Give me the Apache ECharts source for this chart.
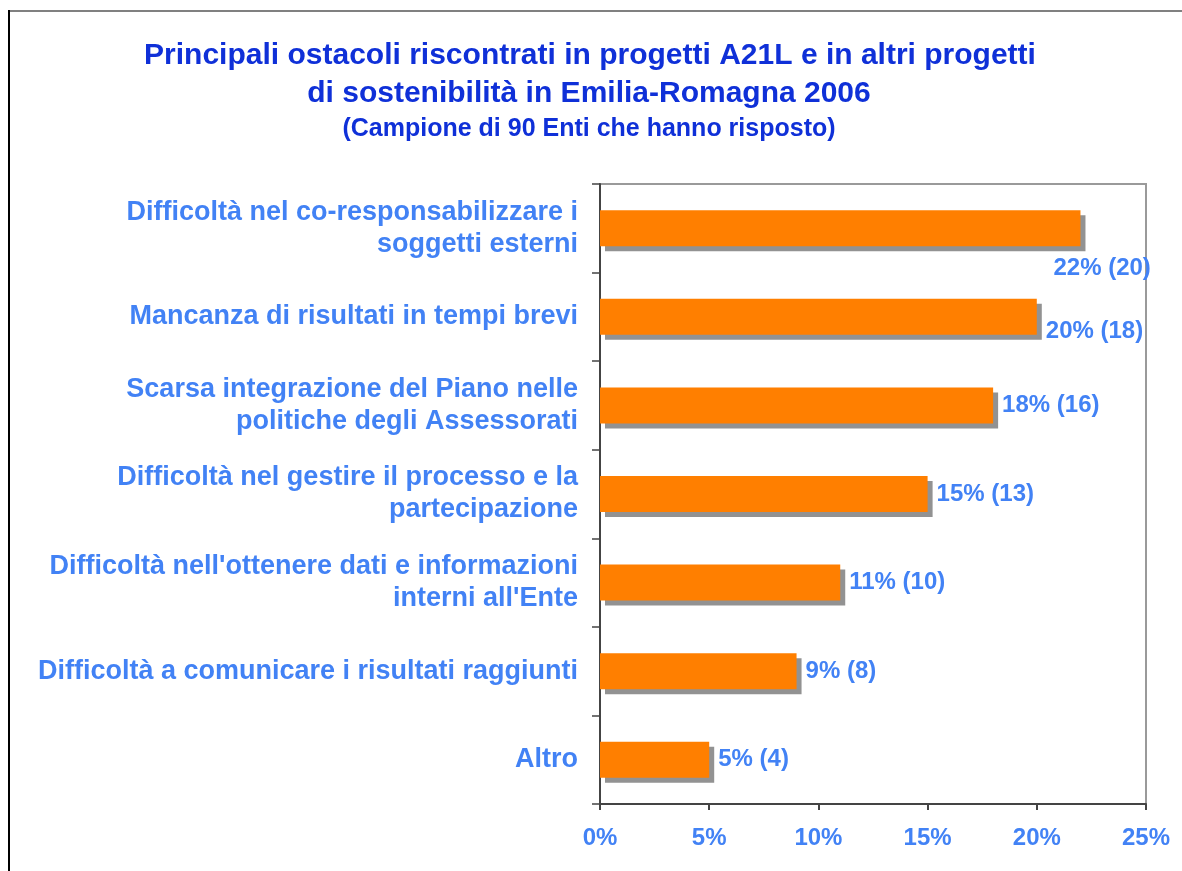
<!DOCTYPE html>
<html>
<head>
<meta charset="utf-8">
<script src="https://cdn.jsdelivr.net/npm/echarts@6/dist/echarts.min.js"></script>
<style>
  html, body { margin: 0; padding: 0; background: #fff; }
  #chart { width: 1182px; height: 871px; }
</style>
</head>
<body>
<div id="chart"></div>
<script>
const categories = [
  'Difficoltà nel co-responsabilizzare i\nsoggetti esterni',
  'Mancanza di risultati in tempi brevi',
  'Scarsa integrazione del Piano nelle\npolitiche degli Assessorati',
  'Difficoltà nel gestire il processo e la\npartecipazione',
  "Difficoltà nell'ottenere dati e informazioni\ninterni all'Ente",
  'Difficoltà a comunicare i risultati raggiunti',
  'Altro'
]
const percents = [22, 20, 18, 15, 11, 9, 5]
const counts = [20, 18, 16, 13, 10, 8, 4]
const xTicks = [0, 5, 10, 15, 20, 25]

const labelBlue = '#4282f5'
const titleBlue = '#0f30d8'
const font = '"Liberation Sans", Arial, sans-serif'

// the first two labels sit a little lower in the original
const labelOffsets = [[-36, 40], [0, 15], [0, 0], [0, 0], [0, 0], [0, 0], [0, 0]]

const chart = echarts.init(document.getElementById('chart'))

chart.setOption({
  backgroundColor: '#fff',
  textStyle: { fontFamily: font },
  title: [
    {
      text: 'Principali ostacoli riscontrati in progetti A21L e in altri progetti',
      left: 585, top: 36, textAlign: 'center',
      textStyle: { color: titleBlue, fontSize: 30, fontWeight: 'bold', fontFamily: font }
    },
    {
      text: 'di sostenibilità in Emilia-Romagna 2006',
      left: 584, top: 74, textAlign: 'center',
      textStyle: { color: titleBlue, fontSize: 30, fontWeight: 'bold', fontFamily: font }
    },
    {
      text: '(Campione di 90 Enti che hanno risposto)',
      left: 584, top: 112, textAlign: 'center',
      textStyle: { color: titleBlue, fontSize: 25, fontWeight: 'bold', fontFamily: font }
    }
  ],
  graphic: [
    { type: 'line', shape: { x1: 9, y1: 11, x2: 1182, y2: 11 }, style: { stroke: '#808080', lineWidth: 2 } },
    { type: 'line', shape: { x1: 9, y1: 10, x2: 9, y2: 871 }, style: { stroke: '#000', lineWidth: 2 } }
  ],
  grid: {
    left: 600, top: 184, right: 36, bottom: 67,
    show: true, borderColor: '#9a9a9a', borderWidth: 2, backgroundColor: 'transparent'
  },
  xAxis: {
    type: 'value',
    min: 0, max: 25, interval: 5,
    axisLine: { show: true, lineStyle: { color: '#444', width: 2 } },
    axisTick: { show: true, length: 6, lineStyle: { color: '#444', width: 2 } },
    splitLine: { show: false },
    axisLabel: {
      margin: 22,
      color: labelBlue, fontSize: 24, fontWeight: 'bold', fontFamily: font,
      formatter: (v) => xTicks.includes(v) ? v + '%' : ''
    }
  },
  yAxis: {
    type: 'category',
    inverse: true,
    data: categories,
    axisLine: { show: true, lineStyle: { color: '#444', width: 2 } },
    axisTick: { show: true, length: 8, lineStyle: { color: '#444', width: 1.5 } },
    axisLabel: {
      margin: 22, align: 'right', lineHeight: 32,
      color: labelBlue, fontSize: 27, fontWeight: 'bold', fontFamily: font
    }
  },
  series: [{
    type: 'bar',
    barWidth: 36,
    data: percents.map((v, i) => ({
      value: v,
      label: { offset: labelOffsets[i] }
    })),
    itemStyle: {
      color: '#ff7f00',
      shadowColor: '#929292',
      shadowBlur: 0,
      shadowOffsetX: 5,
      shadowOffsetY: 5
    },
    label: {
      show: true,
      position: 'right',
      distance: 9,
      color: labelBlue, fontSize: 24, fontWeight: 'bold', fontFamily: font,
      formatter: (p) => p.value + '% (' + counts[p.dataIndex] + ')'
    },
    emphasis: { disabled: true },
    silent: true,
    animation: false
  }]
})
</script>
</body>
</html>
